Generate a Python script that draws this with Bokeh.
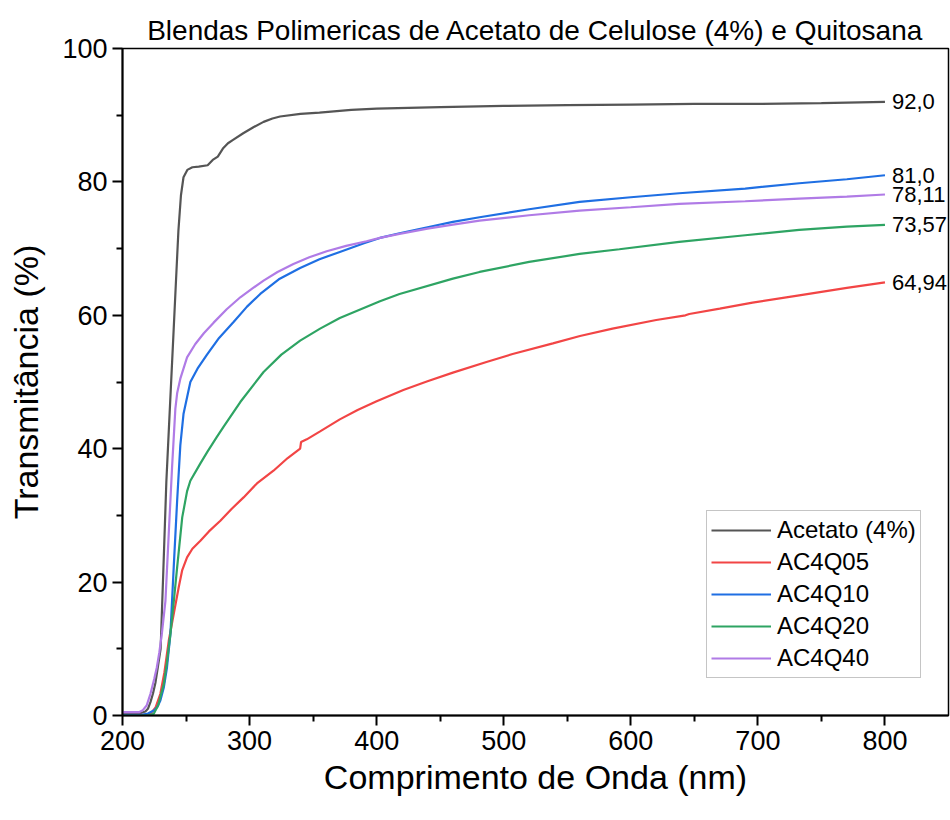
from bokeh.plotting import figure
from bokeh.models import ColumnDataSource, FixedTicker, Range1d, Legend, LegendItem
from bokeh.core.properties import value
from bokeh.embed import file_html
from bokeh.resources import INLINE

# ---------------- data ----------------
series_names = ["Acetato (4%)", "AC4Q05", "AC4Q10", "AC4Q20", "AC4Q40"]

wl_acetato = [200, 210, 215, 218, 220, 222, 224, 226, 228, 230, 232, 234.5, 237, 240, 242, 244,
              246, 248, 251, 255, 260, 267, 271, 275, 279, 283, 287, 295, 303, 311, 318, 324,
              340, 355, 380, 400, 450, 500, 550, 600, 650, 700, 750, 800]
t_acetato = [0.3, 0.3, 0.4, 0.6, 1.0, 2.0, 3.3, 5.0, 7.5, 10.0, 21.0, 35.0, 45.0, 56.8, 64.8, 72.7,
             78.0, 80.7, 81.8, 82.2, 82.3, 82.5, 83.3, 83.8, 85.0, 85.8, 86.3, 87.3, 88.2, 89.0, 89.5, 89.8,
             90.2, 90.4, 90.8, 91.0, 91.2, 91.4, 91.5, 91.6, 91.7, 91.7, 91.8, 92.0]

wl_q05 = [200, 218, 222, 226, 229.8, 233, 236.4, 240.3, 244.2, 247, 250.8, 255, 261.3, 268, 277,
          286, 295.3, 305.8, 318.8, 330, 339.8, 340.5, 345, 355.5, 371, 385, 400, 421, 440, 460,
          486.4, 507, 538.7, 560, 585.6, 620, 643, 646, 670, 695.8, 732.5, 770, 800]
t_q05 = [0.1, 0.1, 0.25, 1.2, 3.25, 6.5, 11.2, 15.2, 19.2, 21.8, 23.7, 25.0, 26.2, 27.6, 29.2,
         31.0, 32.7, 34.8, 36.7, 38.6, 40.0, 41.0, 41.4, 42.6, 44.4, 45.8, 47.1, 48.8, 50.1, 51.4,
         53.0, 54.2, 55.8, 56.9, 58.0, 59.3, 60.0, 60.2, 61.0, 61.9, 63.0, 64.1, 64.94]

wl_q10 = [200, 215, 220, 225, 227.5, 229.8, 232.5, 235, 237.7, 240.3, 243, 245.5, 248, 253.4, 259,
          266.5, 276, 287.4, 298, 308.4, 323, 339.8, 355, 371, 390, 402.6, 418, 440, 460, 481,
          520, 559.7, 600, 638, 690, 732.5, 770, 800]
t_q10 = [0.1, 0.1, 0.3, 0.8, 1.3, 2.25, 4.2, 7.2, 12.2, 22.2, 32.2, 40.5, 45.2, 50.0, 52.0,
         54.1, 56.6, 59.0, 61.3, 63.2, 65.4, 67.1, 68.4, 69.5, 70.8, 71.6, 72.3, 73.2, 74.0, 74.7,
         75.9, 77.0, 77.7, 78.3, 79.0, 79.8, 80.4, 81.0]

wl_q20 = [200, 220, 224.6, 228, 232.5, 235, 237.7, 240.3, 243, 247, 250.8, 253.4, 261.3, 267,
          274.4, 279.6, 292.7, 311, 325, 339.8, 355.5, 371, 402.6, 418, 460, 481, 520, 559.7,
          591, 638, 690, 732.5, 770, 800]
t_q20 = [0.0, 0.0, 0.25, 1.5, 4.7, 8.0, 12.2, 17.0, 22.2, 29.7, 33.6, 35.2, 37.8, 39.6,
         41.8, 43.3, 47.0, 51.5, 54.1, 56.2, 58.0, 59.6, 62.1, 63.2, 65.5, 66.5, 68.0, 69.2,
         69.9, 71.0, 72.0, 72.8, 73.3, 73.57]

wl_q40 = [200, 213, 216, 219, 222, 225, 227, 229, 231, 233.8, 236.4, 239, 241.6, 243, 245.5,
          250.8, 257.3, 264, 271.7, 282, 292.7, 302, 311, 322, 334.5, 347, 360.7, 376, 392,
          402.6, 418, 440, 460, 481, 520, 559.7, 600, 638, 690, 732.5, 770, 800]
t_q40 = [0.5, 0.5, 0.8, 1.5, 3.25, 5.5, 7.2, 9.5, 12.3, 17.2, 27.3, 37.2, 46.0, 48.3, 50.5,
         53.7, 55.7, 57.3, 58.9, 60.9, 62.7, 64.0, 65.2, 66.5, 67.7, 68.7, 69.6, 70.4, 71.1,
         71.6, 72.2, 73.0, 73.6, 74.2, 75.0, 75.7, 76.2, 76.7, 77.1, 77.5, 77.8, 78.11]

end_labels = ["92,0", "64,94", "81,0", "73,57", "78,11"]

x_ticks = [200, 300, 400, 500, 600, 700, 800]
x_minor = [250, 350, 450, 550, 650, 750]
y_ticks = [0, 20, 40, 60, 80, 100]
y_minor = [10, 30, 50, 70, 90]

colors = ["#555555", "#f24545", "#1f6fe3", "#2ea463", "#b07be6"]

FONT = "Liberation Sans"

# ---------------- figure ----------------
p = figure(width=950, height=810, output_backend="svg", toolbar_location=None,
           x_range=Range1d(200, 850), y_range=Range1d(0, 100),
           min_border_left=122, min_border_right=2, min_border_top=48, min_border_bottom=95,
           background_fill_color="white", border_fill_color="white")

p.title.text = "Blendas Polimericas de Acetato de Celulose (4%) e Quitosana"
p.title.text_font = FONT
p.title.text_font_size = "28px"
p.title.text_font_style = "normal"
p.title.text_color = "black"
p.title.align = "center"
p.title.standoff = 6

p.xgrid.visible = False
p.ygrid.visible = False
p.outline_line_color = "black"
p.outline_line_width = 1.5

p.xaxis.ticker = FixedTicker(ticks=x_ticks, minor_ticks=x_minor)
p.yaxis.ticker = FixedTicker(ticks=y_ticks, minor_ticks=y_minor)
p.xaxis.axis_label = "Comprimento de Onda (nm)"
p.yaxis.axis_label = "Transmitância (%)"

for ax in (p.xaxis[0], p.yaxis[0]):
    ax.axis_line_color = "black"
    ax.axis_line_width = 2
    ax.major_tick_line_color = "black"
    ax.major_tick_line_width = 2
    ax.minor_tick_line_color = "black"
    ax.minor_tick_line_width = 2
    ax.major_tick_in = 0
    ax.major_tick_out = 10
    ax.minor_tick_in = 0
    ax.minor_tick_out = 6
    ax.major_label_text_font = FONT
    ax.major_label_text_font_size = "27px"
    ax.major_label_text_color = "black"
    ax.axis_label_text_font = FONT
    ax.axis_label_text_font_size = "34px"
    ax.axis_label_text_font_style = "normal"
    ax.axis_label_text_color = "black"
    ax.major_label_standoff = 5

p.xaxis.axis_label_standoff = 5
p.yaxis.axis_label_standoff = 14

wls = [wl_acetato, wl_q05, wl_q10, wl_q20, wl_q40]
ts = [t_acetato, t_q05, t_q10, t_q20, t_q40]

items = []
for name, wl, t, c in zip(series_names, wls, ts, colors):
    r = p.line(wl, t, line_color=c, line_width=2.2)
    items.append(LegendItem(label=name, renderers=[r]))

# end-of-curve value labels
lab_src = ColumnDataSource(dict(x=[w[-1] for w in wls], y=[t[-1] for t in ts], text=end_labels))
p.text(x="x", y="y", text="text", source=lab_src, x_offset=7,
       text_font=value(FONT), text_font_size="22px", text_baseline="middle",
       text_align="left", text_color="black")

legend = Legend(items=items, location=(584, 37))
legend.label_text_font = FONT
legend.label_text_font_size = "24px"
legend.label_text_color = "black"
legend.border_line_color = "#8c8c8c"
legend.border_line_width = 1.5
legend.background_fill_color = "white"
legend.background_fill_alpha = 1.0
legend.glyph_width = 60
legend.glyph_height = 30
legend.label_height = 30
legend.spacing = 2
legend.padding = 4
legend.margin = 0
legend.label_standoff = 6
p.add_layout(legend, "center")

open("out.html", "w").write(file_html(p, INLINE))
